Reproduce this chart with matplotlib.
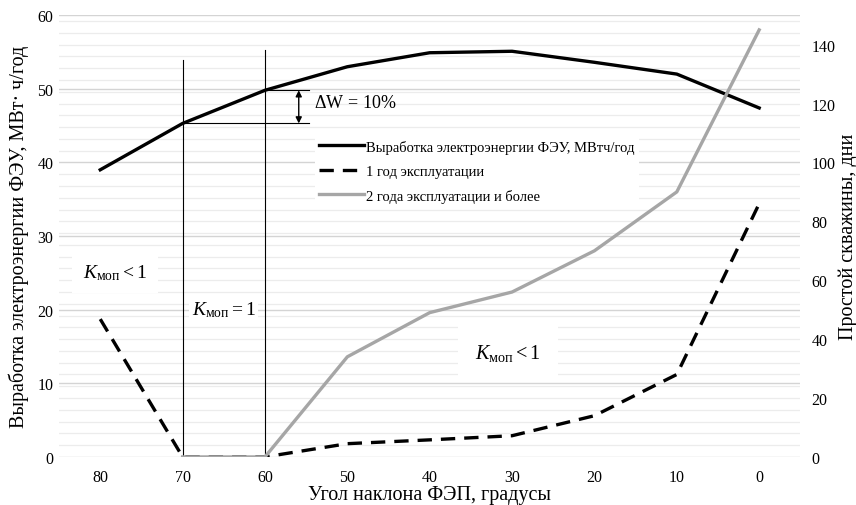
import numpy as np
import matplotlib
matplotlib.use("Agg")
import matplotlib.pyplot as plt
from matplotlib.ticker import MultipleLocator

plt.rcParams['font.family'] = ['Liberation Serif', 'DejaVu Serif']
plt.rcParams['mathtext.fontset'] = 'custom'
plt.rcParams['mathtext.rm'] = 'Liberation Serif'
plt.rcParams['mathtext.it'] = 'Liberation Serif:italic'

# data
angles = ['80', '70', '60', '50', '40', '30', '20', '10', '0']
energy = [39.0, 45.3, 49.8, 53.0, 54.9, 55.1, 53.6, 52.0, 47.4]   # МВтч/год, left axis
year1 = [46.8, 0, 0, 4.5, 5.8, 7.2, 14, 28, 86]                    # дни, right axis
year2 = [np.nan, 0, 0, 34, 49, 56, 70, 90, 145]                    # дни, right axis

x = np.arange(len(angles))

fig = plt.figure(figsize=(8.56, 5.06), dpi=100)
ax = fig.add_axes([0.069, 0.095, 0.866, 0.873])
ax2 = ax.twinx()

# gridlines (left major every 10, right minor every 4 -> 1.6 on left scale)
ax.set_ylim(0, 60)
ax2.set_ylim(0, 150)
ax.yaxis.set_major_locator(MultipleLocator(10))
ax.yaxis.set_minor_locator(MultipleLocator(1.6))
ax.grid(axis='y', which='major', color='#d4d4d4', lw=1.0)
ax.grid(axis='y', which='minor', color='#ececec', lw=0.9)
ax.set_axisbelow(True)
ax2.yaxis.set_major_locator(MultipleLocator(20))

ax.plot(x, energy, color='black', lw=2.4, solid_joinstyle='round',
        label='Выработка электроэнергии ФЭУ, МВтч/год')
l1, = ax2.plot(x, year1, color='black', lw=2.4, linestyle=(0, (4.3, 2.7)),
               label='1 год эксплуатации')
l2, = ax2.plot(x, year2, color='#a6a6a6', lw=2.4, label='2 года эксплуатации и более')

ax.set_xlim(-0.5, 8.5)
ax.set_xticks(x)
ax.set_xticklabels(angles)

for a in (ax, ax2):
    for s in a.spines.values():
        s.set_visible(False)
ax.tick_params(axis='both', length=0, labelsize=11.5)
ax.tick_params(axis='x', pad=9)
ax.tick_params(axis='y', pad=4)
ax2.tick_params(axis='y', length=0, labelsize=11.5, pad=8)
ax.tick_params(axis='y', which='minor', length=0)

ax.set_xlabel('Угол наклона ФЭП, градусы', fontsize=14.5, labelpad=0)
ax.set_ylabel('Выработка электроэнергии ФЭУ, МВт· ч/год', fontsize=14.5, labelpad=6)
ax2.set_ylabel('Простой скважины, дни', fontsize=14.5, labelpad=2)

# reference lines and ΔW arrow
ax.plot([1, 1], [0, 53.9], color='black', lw=0.8)
ax.plot([2, 2], [0, 55.3], color='black', lw=0.8)
ax.plot([1, 2.54], [45.3, 45.3], color='black', lw=0.8)
ax.plot([2, 2.54], [49.8, 49.8], color='black', lw=0.8)
ax.annotate('', xy=(2.41, 45.3), xytext=(2.41, 49.8),
            arrowprops=dict(arrowstyle='<|-|>', color='black', lw=1.0,
                            mutation_scale=9, shrinkA=0, shrinkB=0))
ax.text(2.6, 48.2, r'$\Delta\mathrm{W}\,=\,10\%$', fontsize=13, va='center')

ax2.text(0.18, 25.1, r'$K_{\mathrm{моп}} < 1$', transform=ax.transData, fontsize=14,
         ha='center', va='center', bbox=dict(facecolor='white', edgecolor='none', pad=8), zorder=5)
ax2.text(1.5, 20.1, r'$K_{\mathrm{моп}} = 1$', transform=ax.transData, fontsize=14,
         ha='center', va='center', bbox=dict(facecolor='white', edgecolor='none', pad=2), zorder=5)
ax2.text(4.95, 14.2, r'$K_{\mathrm{моп}} < 1$', transform=ax.transData, fontsize=14.5,
         ha='center', va='center', bbox=dict(facecolor='white', edgecolor='none', pad=12), zorder=5)

h0, = ax.get_lines()[:1]
leg = ax2.legend([h0, l1, l2], [h0.get_label(), l1.get_label(), l2.get_label()],
                 loc='upper left', bbox_to_anchor=(0.335, 0.745), fontsize=10.5,
                 frameon=True, facecolor='white', edgecolor='none', framealpha=1,
                 handlelength=3.1, handletextpad=0.1, labelspacing=0.75,
                 borderpad=0.3, fancybox=False)
leg.set_zorder(6)

fig.savefig('out.png', dpi=100)
